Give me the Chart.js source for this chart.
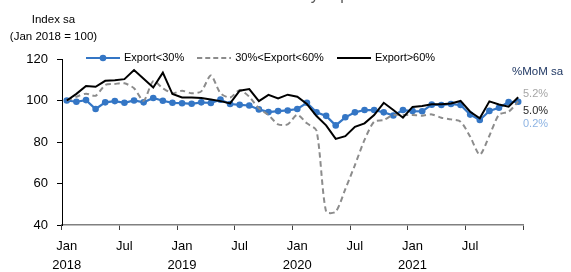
<!DOCTYPE html>
<html>
<head>
<meta charset="utf-8">
<script src="https://cdn.jsdelivr.net/npm/chart.js@4.4.1/dist/chart.umd.min.js"></script>
<style>
  body { margin: 0; background: #fff; font-family: 'Liberation Sans', Arial, sans-serif; }
  #wrap { position: relative; width: 571px; height: 272px; overflow: hidden; }
  .note { position: absolute; white-space: nowrap; line-height: 14px; }
</style>
</head>
<body>
<div id="wrap">
  <canvas id="mpi-chart"></canvas>
  <div class="note" style="left:0;width:571px;top:-13px;text-align:center;font-size:16px;line-height:16px;color:#595959;padding-left:40px;box-sizing:border-box;">MPI classified by export share</div>
  <div class="note" style="left:0;width:107px;top:12px;text-align:center;font-size:11.5px;">Index sa</div>
  <div class="note" style="left:0;width:107px;top:29px;text-align:center;font-size:11.5px;">(Jan 2018 = 100)</div>
  <div class="note" style="left:512px;top:64px;font-size:11.5px;color:#203864;">%MoM sa</div>
  <div class="note" style="left:523px;top:86px;font-size:11px;color:#a6a6a6;">5.2%</div>
  <div class="note" style="left:523px;top:103px;font-size:11px;color:#262626;">5.0%</div>
  <div class="note" style="left:523px;top:116px;font-size:11px;color:#8eb4e3;">0.2%</div>
</div>
<script>
const years = ['2018', '2019', '2020', '2021'];
const months = ['Jan', 'Feb', 'Mar', 'Apr', 'May', 'Jun', 'Jul', 'Aug', 'Sep', 'Oct', 'Nov', 'Dec'];
const categories = years.flatMap((year) => months.map((month) => month + ' ' + year));

// one label every 6 months, year under January
const tickLabels = [['Jan', '2018'], ['Jul'], ['Jan', '2019'], ['Jul'], ['Jan', '2020'], ['Jul'], ['Jan', '2021'], ['Jul']];

const yTicks = { min: 40, max: 120, step: 20 };

const exportBelow30 = [
  100, 99.4, 100.2, 95.9, 99.1, 99.7, 98.9, 100, 99.1, 101.2, 99.9, 98.9,
  98.7, 98.4, 99.1, 98.8, 100.4, 98.3, 97.9, 97.6, 95.7, 94.4, 94.9, 95.2,
  95.9, 98.9, 94.3, 92.6, 88.0, 91.9, 94.3, 95.4, 95.4, 94.3, 92.8, 95.4,
  94.9, 94.8, 98.0, 97.8, 98.3, 97.8, 93.2, 90.6, 95.0, 96.5, 99.2, 99.4
];

const export30to60 = [
  100, 101.8, 103.3, 102.3, 107.5, 108, 108.3, 105.9, 99.9, 109.4, 105.9, 103.5,
  104.7, 103.5, 104.4, 112.1, 103.5, 101.4, 105, 101.8, 96.2, 93, 88.5, 88.5,
  93.1, 89, 85.5, 46.4, 46.4, 57.3, 68.9, 81, 89.8, 90.6, 93, 93,
  93, 92.7, 93.3, 91.7, 90.9, 89.8, 82.6, 73.9, 83, 93.2, 94.6, 99.5
];

const exportAbove60 = [
  100, 103.2, 107, 106.6, 109.5, 109.8, 110.3, 114.7, 110.5, 106.3, 113.4, 103.1,
  101.5, 101.5, 101.2, 100.5, 99.7, 98.6, 104.7, 105.5, 99.7, 102.7, 101, 102.8,
  101.8, 98.3, 92.5, 88, 81.5, 82.8, 87.3, 89, 93, 98.9, 95.4, 91.7,
  96.9, 97.3, 98.2, 98.2, 98.6, 99.8, 94.6, 91.4, 99.6, 98.1, 97.0, 101.6
];

const blue = '#3476c5';
const gray = '#8c8c8c';

// small canvases used as legend symbols (line, dash, line + dot)
function legendIcon(color, dash, dot) {
  const icon = document.createElement('canvas');
  icon.width = 34;
  icon.height = 10;
  const ctx = icon.getContext('2d');
  ctx.strokeStyle = color;
  ctx.lineWidth = 2;
  ctx.setLineDash(dash);
  ctx.beginPath();
  ctx.moveTo(0, 5);
  ctx.lineTo(34, 5);
  ctx.stroke();
  if (dot) {
    ctx.fillStyle = color;
    ctx.beginPath();
    ctx.arc(17, 5, 3.3, 0, Math.PI * 2);
    ctx.fill();
  }
  return icon;
}

const legendIcons = [legendIcon(blue, [], true), legendIcon(gray, [5, 3], false), legendIcon('#000', [], false)];

// legend takes no room in the layout and is then moved onto the 120 line
const legendInPlot = {
  id: 'legendInPlot',
  beforeLayout(chart) {
    const legend = chart.legend;
    if (!legend || legend._noHeight) return;
    const fit = legend.fit;
    legend.fit = function () {
      fit.call(this);
      this.height = 0;
    };
    legend._noHeight = true;
  },
  afterLayout(chart) {
    const legend = chart.legend;
    const pad = legend.options.labels.padding;
    legend.left = 87.5 - pad;
    legend.right = legend.left + 470;
    legend.top = 52.5 - pad;
    legend.bottom = legend.top + 40;
    legend.width = 470;
    legend.height = 40;
  }
};

const tickFont = { family: 'Liberation Sans', size: 13 };

new Chart(document.getElementById('mpi-chart'), {
  type: 'line',
  data: {
    labels: categories,
    datasets: [
      {
        label: 'Export<30%',
        data: exportBelow30,
        borderColor: blue,
        backgroundColor: blue,
        borderWidth: 2.2,
        pointRadius: 3.3,
        pointBorderWidth: 0,
        pointBackgroundColor: blue,
        order: 3
      },
      {
        label: '30%<Export<60%',
        data: export30to60,
        borderColor: gray,
        backgroundColor: gray,
        borderWidth: 2,
        borderDash: [5.5, 3.5],
        pointRadius: 0,
        tension: 0.25,
        order: 2
      },
      {
        label: 'Export>60%',
        data: exportAbove60,
        borderColor: '#000',
        backgroundColor: '#000',
        borderWidth: 2,
        pointRadius: 0,
        order: 1
      }
    ]
  },
  options: {
    responsive: true,
    maintainAspectRatio: false,
    animation: false,
    layout: { padding: { top: 59, right: 48, left: 0, bottom: 0 } },
    plugins: {
      tooltip: { enabled: false },
      legend: {
        position: 'top',
        align: 'start',
        labels: {
          font: { family: 'Liberation Sans', size: 11 },
          color: '#000',
          padding: 14.5,
          usePointStyle: true,
          pointStyleWidth: 31,
          sort: (a, b) => a.datasetIndex - b.datasetIndex,
          generateLabels(chart) {
            return Chart.defaults.plugins.legend.labels.generateLabels(chart).map((item) => {
              item.pointStyle = legendIcons[item.datasetIndex];
              return item;
            });
          }
        }
      }
    },
    scales: {
      x: {
        offset: true,
        afterFit(scale) { scale.height = 47; },
        border: { color: '#808080', width: 1.5 },
        grid: {
          offset: true,
          drawOnChartArea: false,
          tickLength: 5,
          color: (c) => (c.type !== 'tick' || c.index % 6 === 0) ? '#404040' : 'rgba(0,0,0,0)'
        },
        ticks: {
          autoSkip: false,
          maxRotation: 0,
          padding: 6.5,
          color: '#000',
          font: { ...tickFont, lineHeight: '19px' },
          callback: (value, index) => index % 6 === 0 ? tickLabels[index / 6] : ''
        }
      },
      y: {
        min: yTicks.min,
        max: yTicks.max,
        afterFit(scale) { scale.width = 62; },
        border: { color: '#000', width: 1 },
        grid: { drawOnChartArea: false, tickLength: 5, color: '#000' },
        ticks: { stepSize: yTicks.step, padding: 9, color: '#000', font: tickFont }
      }
    }
  },
  plugins: [legendInPlot]
});
</script>
</body>
</html>
